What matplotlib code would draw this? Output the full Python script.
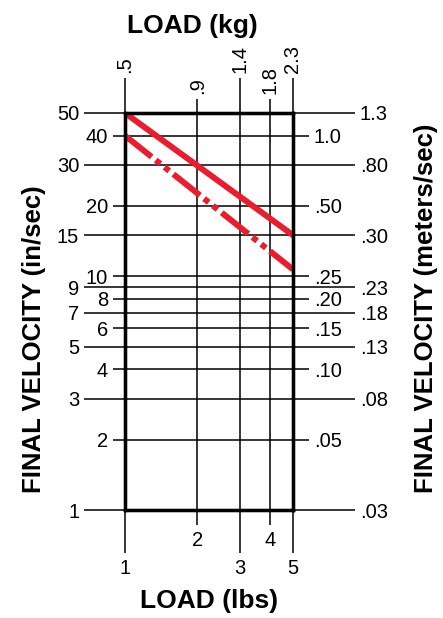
import matplotlib
matplotlib.use("Agg")
import matplotlib.pyplot as plt

plt.rcParams['font.family'] = ['Liberation Sans', 'DejaVu Sans']
plt.rcParams['lines.scale_dashes'] = False

# ---- data ----
load_lbs_major = [1, 3, 5]
load_lbs_minor = [2, 4]
load_kg_major_labels = ['.5', '1.4', '2.3']
load_kg_minor_labels = ['.9', '1.8']

vel_in_major = [50, 30, 15, 9, 7, 5, 3, 1]
vel_in_minor = [40, 20, 10, 8, 6, 4, 2]
vel_ms_major_labels = ['1.3', '.80', '.30', '.23', '.18', '.13', '.08', '.03']
vel_ms_minor_labels = ['1.0', '.50', '.25', '.20', '.15', '.10', '.05']

solid_load = [1, 5]
solid_vel = [50, 15]
dashed_load = [1, 5]
dashed_vel = [40, 10.7]

RED = '#EB1C2D'
W, H = 443, 618

fig = plt.figure(figsize=(W / 100, H / 100), dpi=100)
ax = fig.add_axes([125 / W, (H - 510) / H, 168 / W, 397 / H])
ax.set_xscale('log')
ax.set_yscale('log')
ax.set_xlim(1, 5)
ax.set_ylim(1, 50)

# bottom axis (lbs)
ax.set_xticks(load_lbs_major, [str(v) for v in load_lbs_major])
ax.set_xticks(load_lbs_minor, [str(v) for v in load_lbs_minor], minor=True)
# left axis (in/sec)
ax.set_yticks(vel_in_major, [str(v) for v in vel_in_major])
ax.set_yticks(vel_in_minor, [str(v) for v in vel_in_minor], minor=True)

tick_lw = 1.1
lab_size = 14.5
ax.tick_params(axis='x', which='major', direction='out', length=31, width=tick_lw,
               pad=4.2, labelsize=lab_size, top=False)
ax.tick_params(axis='x', which='minor', direction='out', length=10.8, width=tick_lw,
               pad=4.2, labelsize=lab_size, top=False)
ax.tick_params(axis='y', which='major', direction='out', length=29.5, width=tick_lw,
               pad=3.5, labelsize=lab_size, right=False)
ax.tick_params(axis='y', which='minor', direction='out', length=8.6, width=tick_lw,
               pad=3.5, labelsize=lab_size, right=False)

ax.grid(True, which='both', axis='both', color='black', lw=tick_lw)
ax.set_axisbelow(True)
for sp in ax.spines.values():
    sp.set_linewidth(2.3)

# right axis (meters/sec)
ax2 = ax.twinx()
ax2.set_yscale('log')
ax2.set_ylim(1, 50)
ax2.set_yticks(vel_in_major, vel_ms_major_labels)
ax2.set_yticks(vel_in_minor, vel_ms_minor_labels, minor=True)
ax2.tick_params(axis='y', which='major', direction='out', length=44.6, width=tick_lw,
                pad=3.5, labelsize=lab_size)
ax2.tick_params(axis='y', which='minor', direction='out', length=11.5, width=tick_lw,
                pad=3.5, labelsize=lab_size)
for sp in ax2.spines.values():
    sp.set_linewidth(2.3)

# top axis (kg)
ax3 = ax.twiny()
ax3.set_xscale('log')
ax3.set_xlim(1, 5)
ax3.set_xticks(load_lbs_major, load_kg_major_labels)
ax3.set_xticks(load_lbs_minor, load_kg_minor_labels, minor=True)
ax3.tick_params(axis='x', which='major', direction='out', length=25, width=tick_lw,
                pad=3.5, labelsize=lab_size, labelrotation=90)
ax3.tick_params(axis='x', which='minor', direction='out', length=10, width=tick_lw,
                pad=3.5, labelsize=lab_size, labelrotation=90)
for sp in ax3.spines.values():
    sp.set_linewidth(2.3)

# red lines
ax.plot(solid_load, solid_vel, color=RED, lw=4.3, solid_capstyle='projecting', zorder=5)
ax.plot(dashed_load, dashed_vel, color=RED, lw=4.3, dash_capstyle='butt', zorder=5,
        linestyle=(0, (24.5, 3.8, 4.3, 3.8, 4.3, 3.8)))

# titles
fig.text(192 / W, 1 - 33 / H, 'LOAD (kg)', ha='center', va='baseline',
         fontsize=19, fontweight='bold')
fig.text(209 / W, 1 - 608 / H, 'LOAD (lbs)', ha='center', va='baseline',
         fontsize=19, fontweight='bold')
fig.text(34 / W, 1 - 493 / H, 'FINAL VELOCITY (in/sec)', ha='center', va='bottom',
         rotation=90, fontsize=18.5, fontweight='bold')
fig.text(426 / W, 1 - 493 / H, 'FINAL VELOCITY (meters/sec)', ha='center', va='bottom',
         rotation=90, fontsize=18.5, fontweight='bold')

fig.savefig('out.png', dpi=100)
